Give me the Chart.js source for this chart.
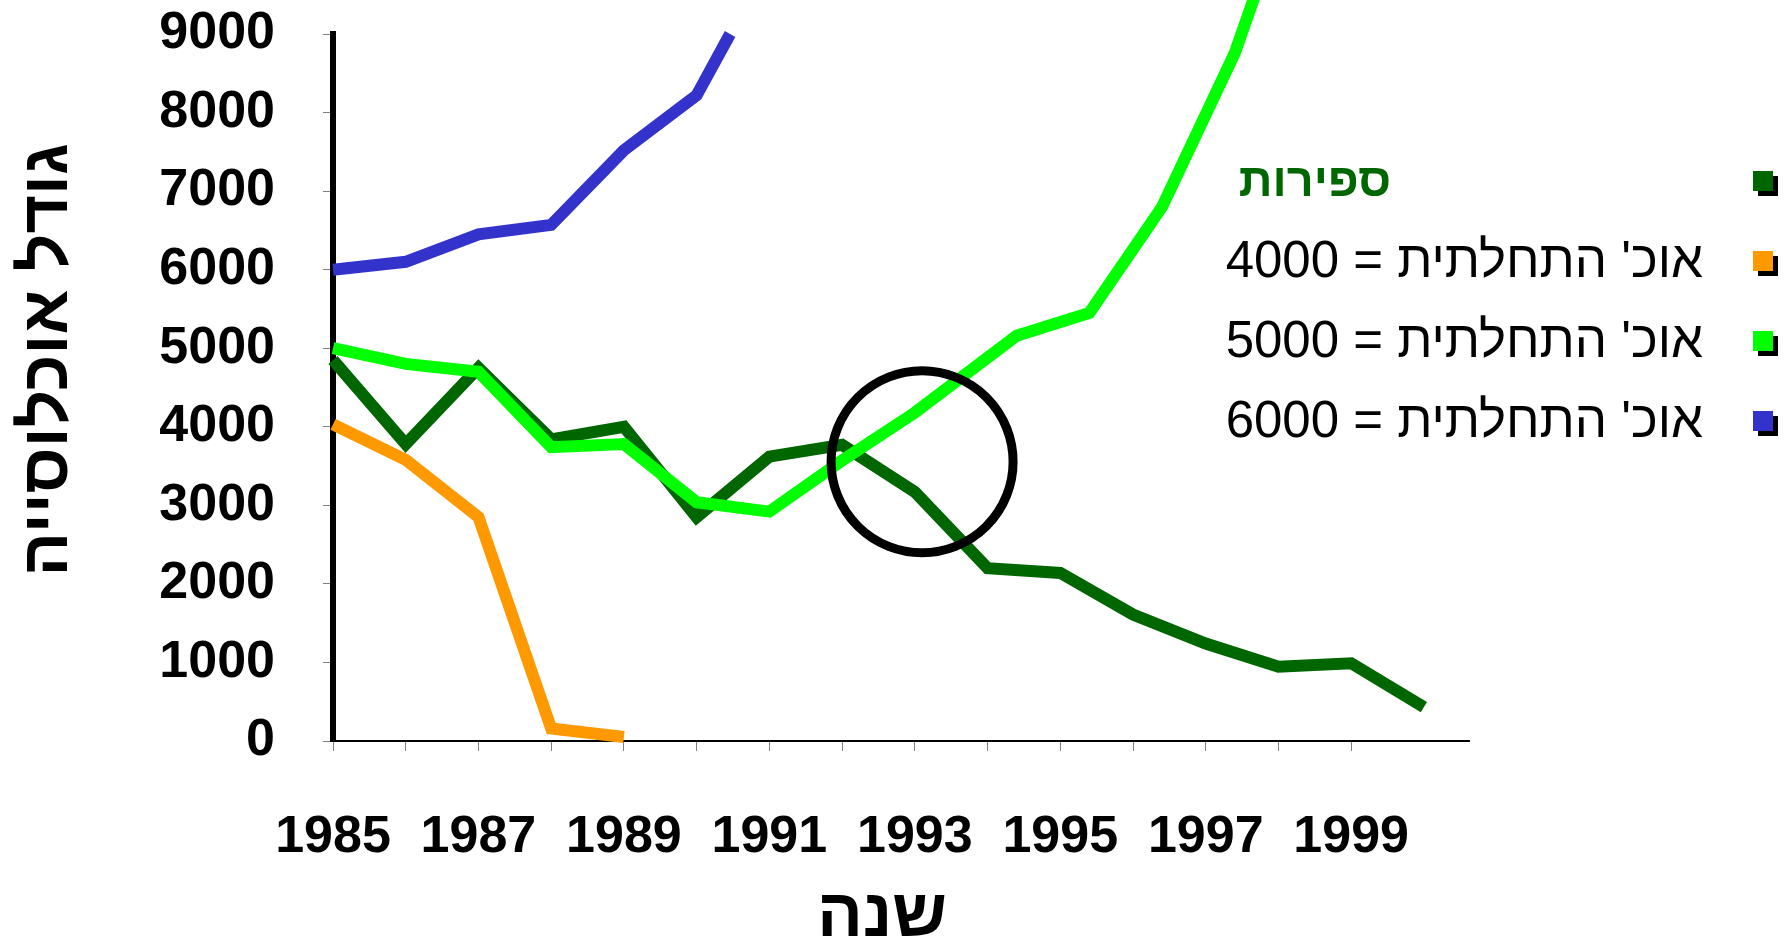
<!DOCTYPE html>
<html>
<head>
<meta charset="utf-8">
<title>גודל אוכלוסייה</title>
<script src="https://cdn.jsdelivr.net/npm/chart.js@4.4.1/dist/chart.umd.min.js"></script>
<style>
  html, body { margin: 0; padding: 0; background: #fff; }
  canvas { display: block; }
</style>
</head>
<body>
<canvas id="popChart" width="1787" height="941"></canvas>
<script>
// values
var years = [1985, 1986, 1987, 1988, 1989, 1990, 1991, 1992, 1993, 1994, 1995, 1996, 1997, 1998, 1999, 2000];
var counts = [4850, 3780, 4750, 3840, 4000, 2850, 3620, 3770, 3170, 2200, 2140, 1610, 1240, 945, 990, 430];

var years4000 = [1985, 1986, 1987, 1988, 1989];
var pop4000 = [4030, 3580, 2850, 160, 50];

var years5000 = [1985, 1986, 1987, 1988, 1989, 1990, 1991, 1992, 1993, 1994.4, 1995.4, 1996.4, 1997.4, 1998.4];
var pop5000 = [5000, 4800, 4700, 3740, 3780, 3040, 2920, 3570, 4180, 5160, 5450, 6800, 8760, 11400];

var years6000 = [1985, 1986, 1987, 1988, 1989, 1990, 1990.46];
var pop6000 = [6000, 6100, 6450, 6570, 7520, 8220, 9000];

// the hand drawn ring around the crossing
var ringYear = [1993.1];
var ringPop = [3555];

var labelYears = [1985, 1987, 1989, 1991, 1993, 1995, 1997, 1999];

var FONT = "'Liberation Sans', Arial, sans-serif";

function pts(xs, ys) {
  return xs.map(function (x, i) { return { x: x, y: ys[i] }; });
}

function lineSet(label, color, xs, ys, order, row) {
  return {
    label: label,
    data: pts(xs, ys),
    borderColor: color,
    backgroundColor: color,
    borderWidth: 12,
    borderJoinStyle: 'miter',
    borderCapStyle: 'butt',
    pointRadius: 0,
    tension: 0,
    fill: false,
    clip: false,
    order: order,
    legendRow: row
  };
}

// legend on the right, squares with a little black shadow
var sideLegend = {
  id: 'sideLegend',
  afterDraw: function (chart) {
    var ctx = chart.ctx;
    ctx.save();
    ctx.textBaseline = 'middle';
    ctx.textAlign = 'right';
    ctx.direction = 'rtl';
    chart.data.datasets.forEach(function (ds) {
      if (ds.legendRow === undefined) return;
      var y = 183 + ds.legendRow * 80;
      ctx.fillStyle = '#000';
      ctx.fillRect(1758, y - 7, 20, 20);
      ctx.fillStyle = ds.borderColor;
      ctx.fillRect(1753, y - 12, 20, 20);
      if (ds.legendRow === 0) {
        ctx.font = 'bold 47px ' + FONT;
        ctx.fillStyle = ds.borderColor;
        ctx.fillText(ds.label, 1391, y);
      } else {
        ctx.font = '51px ' + FONT;
        ctx.fillStyle = '#000';
        ctx.fillText(ds.label, 1703, y);
      }
    });
    ctx.restore();
  }
};

new Chart(document.getElementById('popChart').getContext('2d'), {
  type: 'line',
  data: {
    datasets: [
      {
        label: '',
        data: pts(ringYear, ringPop),
        showLine: false,
        pointStyle: 'circle',
        pointRadius: 91,
        pointBorderWidth: 9,
        pointBorderColor: '#000',
        pointBackgroundColor: 'rgba(0,0,0,0)',
        clip: false,
        order: 0
      },
      lineSet("אוכ' התחלתית = 5000", '#00ff00', years5000, pop5000, 1, 2),
      lineSet('ספירות', '#006600', years, counts, 2, 0),
      lineSet("אוכ' התחלתית = 4000", '#ff9900', years4000, pop4000, 3, 1),
      lineSet("אוכ' התחלתית = 6000", '#3333cc', years6000, pop6000, 4, 3)
    ]
  },
  options: {
    responsive: false,
    animation: false,
    events: [],
    layout: {
      autoPadding: false, // the big ring would otherwise push the plot down
      padding: { top: 34, right: 318, bottom: 0, left: 0 }
    },
    plugins: {
      legend: { display: false },
      tooltip: { enabled: false }
    },
    scales: {
      x: {
        type: 'linear',
        min: 1985,
        max: 2000.62,
        afterBuildTicks: function (s) {
          s.ticks = s.ticks.filter(function (t) {
            return Math.abs(t.value - Math.round(t.value)) < 1e-6 && t.value <= 2000;
          });
        },
        ticks: {
          stepSize: 1,
          autoSkip: false,
          maxRotation: 0,
          padding: 55,
          color: '#000',
          font: { family: FONT, size: 52, weight: 'bold' },
          callback: function (v) {
            return labelYears.indexOf(Math.round(v)) >= 0 ? String(Math.round(v)) : '';
          }
        },
        grid: { drawOnChartArea: false, tickLength: 10, color: '#808080', lineWidth: 1 },
        border: { display: true, color: '#000', width: 2 },
        title: {
          display: true,
          text: 'שנה  ', // trailing spaces nudge it a bit left like the original
          color: '#000',
          font: { family: FONT, size: 68, weight: 'bold', lineHeight: 0.7 },
          padding: 0
        },
        afterFit: function (s) { s.height = 200; }
      },
      y: {
        min: 0,
        max: 9000,
        ticks: {
          stepSize: 1000,
          padding: 48,
          color: '#000',
          font: { family: FONT, size: 52, weight: 'bold' },
          callback: function (v) { return String(v); }
        },
        grid: { drawOnChartArea: false, tickLength: 10, color: '#808080', lineWidth: 1 },
        border: { display: true, color: '#000', width: 6 },
        title: {
          display: true,
          text: '   גודל אוכלוסייה',
          color: '#000',
          font: { family: FONT, size: 66, weight: 'bold' },
          padding: { top: 9, bottom: 0 }
        },
        afterFit: function (s) {
          s.width = 333;
          // the big label padding would push the top of the plot down
          s.paddingTop = 0;
          s.paddingBottom = 0;
        }
      }
    }
  },
  plugins: [sideLegend]
});
</script>
</body>
</html>
